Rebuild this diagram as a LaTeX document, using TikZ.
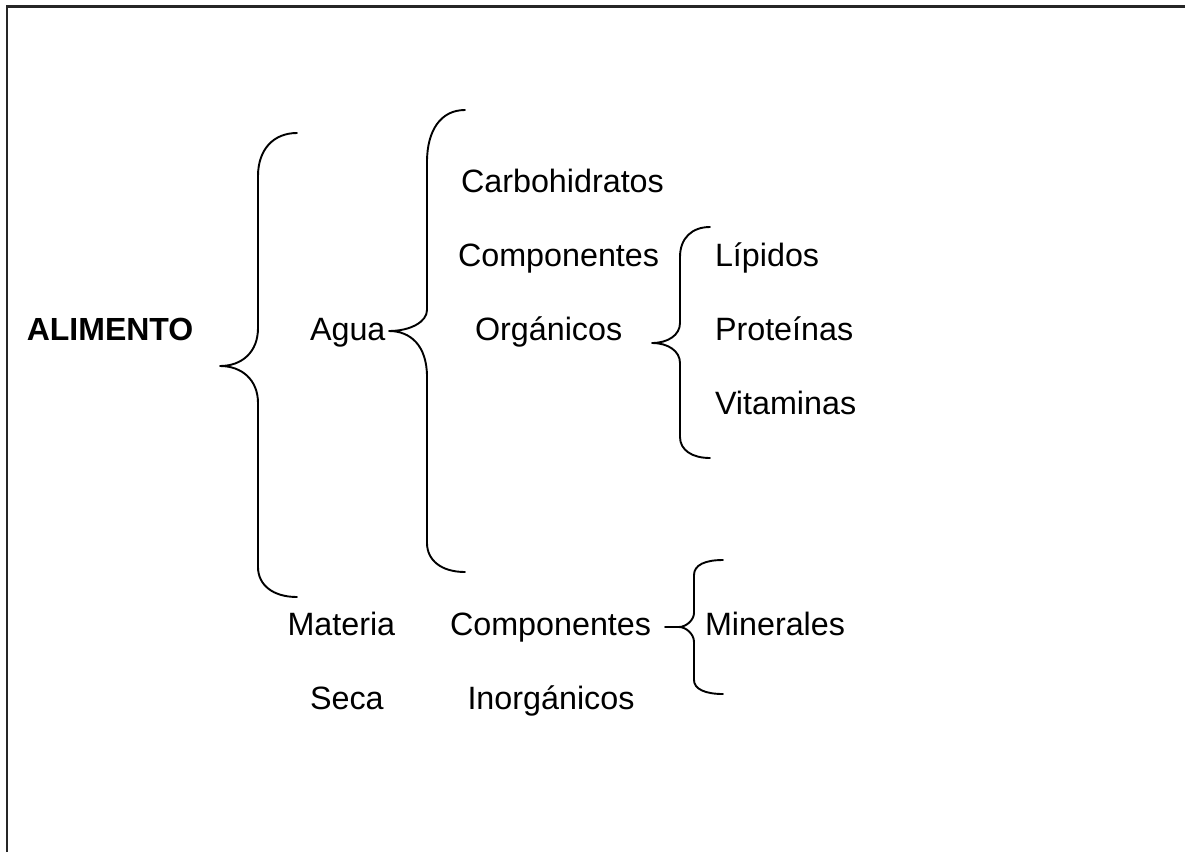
\documentclass[tikz,border=0pt]{standalone}
\usepackage{fontspec}
\setmainfont{Liberation Sans}
\begin{document}
\begin{tikzpicture}[x=1pt,y=-1pt,
  lbl/.style={anchor=base west,inner sep=0pt,outer sep=0pt,font=\fontsize{32.3}{37}\selectfont},
  bld/.style={lbl,font=\fontsize{32}{37}\selectfont\bfseries},
  brace/.style={draw=black,line width=1.9pt,line cap=round,line join=round},
  frame/.style={draw=black!85,line width=2.4pt}]
\useasboundingbox (0,0) rectangle (1185,852);
% frame (top and left only visible)
\coordinate (fl) at (7.2,852);
\coordinate (ftl) at (7.2,6.3);
\coordinate (fr) at (1185,6.3);
\draw[frame] (fl) -- (ftl) -- (fr);
% texts
\node[bld] (alimento) at (26.8,340) {ALIMENTO};
\node[lbl] (agua) at (310,340) {Agua};
\node[lbl] (carbo) at (461,192) {Carbohidratos};
\node[lbl] (comp1) at (458,266) {Componentes};
\node[lbl] (org) at (475,340) {Orgánicos};
\node[lbl] (lip) at (715,266) {Lípidos};
\node[lbl] (prot) at (715,340) {Proteínas};
\node[lbl] (vit) at (715,414) {Vitaminas};
\node[lbl] (mat) at (287.5,635) {Materia};
\node[lbl] (seca) at (310,709) {Seca};
\node[lbl] (comp2) at (450,635) {Componentes};
\node[lbl] (inorg) at (467.5,709) {Inorgánicos};
\node[lbl] (min) at (705,635) {Minerales};
% brace 1 (ALIMENTO)
\draw[brace] (297,133) .. controls (273,133) and (258,150) .. (258,176)
  -- (258,328) .. controls (258,352) and (242,366) .. (220,366)
  .. controls (242,366) and (258,380) .. (258,403)
  -- (258,567) .. controls (258,585) and (273,597) .. (297,597);
% brace 2 (Agua)
\draw[brace] (465,110) .. controls (441,110) and (427,130) .. (427,162)
  -- (427,310) .. controls (427,322) and (410,331) .. (389,331)
  .. controls (410,331) and (427,345) .. (427,377)
  -- (427,543) .. controls (427,560) and (441,572) .. (465,572);
% brace 3 (Organicos)
\draw[brace] (710,227) .. controls (692,227) and (680,238) .. (680,257)
  -- (680,323) .. controls (680,335) and (668,343) .. (652,343)
  .. controls (668,343) and (680,351) .. (680,363)
  -- (680,437) .. controls (680,450) and (692,458) .. (710,458);
% brace 4 (Minerales)
\draw[brace] (723,560) .. controls (705,560) and (694,565) .. (694,575)
  -- (694,613) .. controls (694,620) and (686,627) .. (679,627) -- (665,627)
  -- (679,627) .. controls (686,627) and (694,634) .. (694,642)
  -- (694,680) .. controls (694,689) and (705,694) .. (723,694);
\end{tikzpicture}
\end{document}
